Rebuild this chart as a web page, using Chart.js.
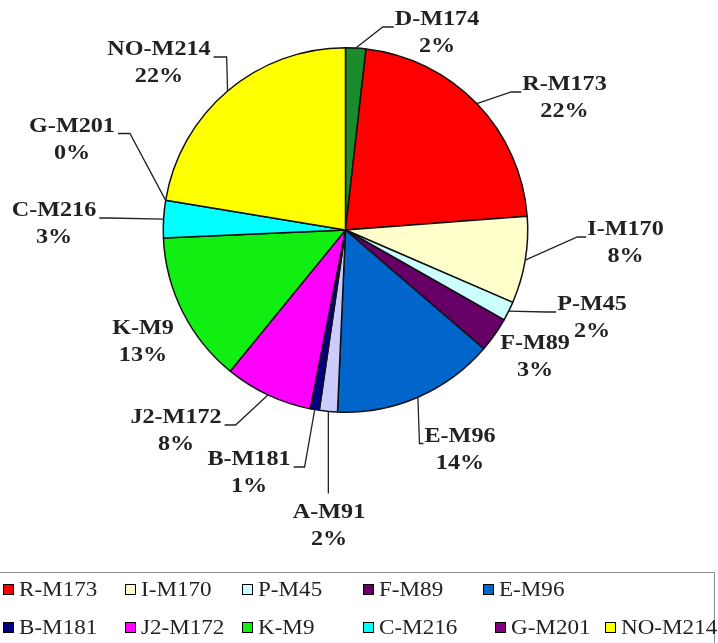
<!DOCTYPE html>
<html>
<head>
<meta charset="utf-8">
<script src="https://cdn.jsdelivr.net/npm/chart.js@4"></script>
<style>
body { margin: 0; background: #fff; }
#wrap { position: relative; width: 718px; height: 643px; overflow: hidden; }
#legendBox { position: absolute; left: -2px; top: 572px; width: 715px; height: 100px; border: 1.5px solid #8c8c8c; }
.lgBox { position: absolute; width: 9px; height: 9px; border: 1px solid #000; }
.lgText { position: absolute; font: 21px "Liberation Serif", serif; color: #222; line-height: 22px; height: 22px; white-space: nowrap; transform-origin: left center; transform: scaleX(1.1); }
</style>
</head>
<body>
<div id="wrap">
  <canvas id="myChart" width="718" height="643"></canvas>
  <div id="legendBox"></div>
</div>
<script>
var labels = ["D-M174", "R-M173", "I-M170", "P-M45", "F-M89", "E-M96", "A-M91", "B-M181", "J2-M172", "K-M9", "C-M216", "G-M201", "NO-M214"];
var values = [1.8, 22.0, 7.7, 1.7, 3.1, 14.4, 1.6, 0.8, 7.8, 13.4, 3.3, 0, 22.4];
var colors = ["#1a8c2c", "#ff0000", "#ffffcc", "#ccffff", "#660066", "#0066cc", "#ccccff", "#000080", "#ff00ff", "#11ee11", "#00ffff", "#800080", "#ffff00"];
var legendRow1 = ["R-M173", "I-M170", "P-M45", "F-M89", "E-M96"];
var legendRow2 = ["B-M181", "J2-M172", "K-M9", "C-M216", "G-M201", "NO-M214"];

// where each data label sits, relative to the pie centre, and which side its leader line meets
var labelOffset = [[91.5, -210], [219, -145], [280, 0], [246.5, 75], [189.5, 113.5], [114.5, 206.5], [-16.5, 282.5], [-96.5, 230], [-169.5, 188], [-202.5, 98.5], [-291.5, -19], [-273.5, -103.5], [-186.5, -180]];
var leaderSide = ["L", "L", "L", "L", "", "L", "T", "R", "R", "", "R", "R", "R"];
var elbow = [11, 10, 9, 10, 0, 4, 0, 11, 11, 0, 10, 12, 13];
var textScale = 1.15;

function drawText(ctx, t, x, y) {
    ctx.save();
    ctx.translate(x, y);
    ctx.scale(textScale, 1);
    ctx.textAlign = "center";
    ctx.textBaseline = "middle";
    ctx.fillText(t, 0, 0);
    ctx.restore();
}

var pieLabels = {
    id: "pieLabels",
    afterDatasetsDraw: function (chart) {
        var ctx = chart.ctx;
        var meta = chart.getDatasetMeta(0);
        var total = values.reduce(function (a, b) { return a + b; }, 0);
        ctx.save();
        ctx.font = 'bold 21px "Liberation Serif"';
        ctx.fillStyle = "#222";
        ctx.strokeStyle = "#222";
        ctx.lineWidth = 1.3;
        meta.data.forEach(function (arc, i) {
            var p = arc.getProps(["x", "y", "startAngle", "endAngle", "outerRadius"], true);
            var mid = (p.startAngle + p.endAngle) / 2;
            var ex = p.x + Math.cos(mid) * p.outerRadius;
            var ey = p.y + Math.sin(mid) * p.outerRadius;
            var tx = p.x + labelOffset[i][0];
            var ty = p.y + labelOffset[i][1];
            var w = ctx.measureText(labels[i]).width * textScale;
            var side = leaderSide[i];
            if (side) {
                ctx.beginPath();
                ctx.moveTo(ex, ey);
                if (side === "T") {
                    ctx.lineTo(ex, ty - 19);
                } else if (side === "L") {
                    var lx = tx - w / 2 - 1;
                    ctx.lineTo(lx - elbow[i], ty + 7);
                    ctx.lineTo(lx, ty + 7);
                } else {
                    var rx = tx + w / 2 + 3;
                    ctx.lineTo(rx + elbow[i], ty + 7);
                    ctx.lineTo(rx, ty + 7);
                }
                ctx.stroke();
            }
            drawText(ctx, labels[i], tx, ty);
            drawText(ctx, Math.round(values[i] / total * 100) + "%", tx, ty + 27);
        });
        ctx.restore();
    }
};

new Chart("myChart", {
    type: "pie",
    data: {
        labels: labels,
        datasets: [{
            data: values,
            backgroundColor: colors,
            borderColor: "#111",
            borderWidth: 1.5
        }]
    },
    options: {
        responsive: false,
        animation: false,
        layout: { padding: { left: 162, right: 189, top: 47, bottom: 230 } },
        plugins: {
            legend: { display: false },
            tooltip: { enabled: false }
        }
    },
    plugins: [pieLabels]
});

// legend, laid out like the original (two rows, second row packed tighter)
var colX = [[3, 125, 242, 363, 483], [3, 125, 242, 363, 495, 605]];
var rowY = [589, 627];
var wrap = document.getElementById("wrap");
[legendRow1, legendRow2].forEach(function (row, r) {
    row.forEach(function (name, c) {
        var idx = labels.indexOf(name);
        var box = document.createElement("div");
        box.className = "lgBox";
        box.style.left = colX[r][c] + "px";
        box.style.top = (rowY[r] - 5.5) + "px";
        box.style.background = colors[idx];
        wrap.appendChild(box);
        var txt = document.createElement("div");
        txt.className = "lgText";
        txt.style.left = (colX[r][c] + 16) + "px";
        txt.style.top = (rowY[r] - 11) + "px";
        txt.textContent = name;
        wrap.appendChild(txt);
    });
});
</script>
</body>
</html>
